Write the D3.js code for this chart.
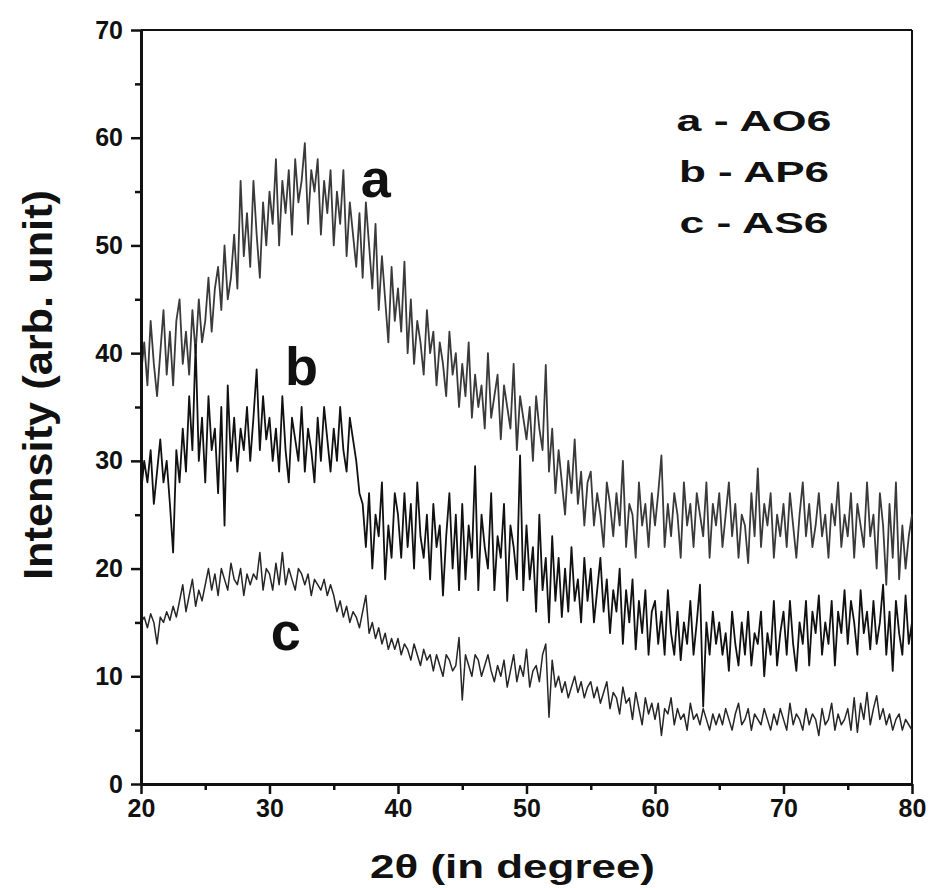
<!doctype html>
<html>
<head>
  <meta charset="utf-8">
  <script src="https://d3js.org/d3.v7.min.js"></script>
  <style>
    body { margin: 0; background: #fff; }
    svg { display: block; }
    .axis text {
      font-family: "Liberation Sans", Arial, sans-serif;
      font-weight: bold;
      font-size: 25px;
      fill: #111;
    }
    .axis line { stroke: #111; stroke-width: 2.5; }
    .axis path { stroke: #111; stroke-width: 3; }
    .label {
      font-family: "Liberation Sans", Arial, sans-serif;
      font-weight: bold;
      fill: #111;
    }
  </style>
</head>
<body>
<script>
  // 2-theta sampled every 0.25 degree from 20 to 80
  var step = 0.25;
  var xStart = 20;

  var seriesA = [
    38, 41, 37, 43, 39, 36, 40, 44, 38, 42, 37, 43, 45, 39, 42, 38, 44, 40, 45, 41,
    43, 47, 42, 46, 48, 44, 50, 45, 47, 51, 46, 56, 49, 53, 48, 56, 51, 47, 54, 50,
    55, 52, 58, 50, 56, 53, 57, 51, 58, 54, 56, 59.5, 52, 57, 55, 58, 51, 56, 53, 57,
    50, 55, 52, 57, 49, 54, 51, 48, 53, 47, 54, 50, 46, 52, 44, 49, 45, 41, 48, 43,
    46, 42, 48.5, 40, 45, 39, 43, 41, 38, 44, 40, 42, 37, 41, 39, 36, 42, 38, 40, 35,
    39, 36, 41, 34, 38, 35, 37, 33, 40, 34, 36, 38, 32, 37, 35, 33, 39, 31, 36, 34,
    32, 35, 30, 36, 33, 31, 38.9, 29, 33, 27, 31, 28, 25, 30, 27, 32, 26, 29, 24, 28,
    29, 24, 27, 25, 22, 28, 26, 23, 27, 24, 30, 22, 26, 25, 21, 28, 24, 26, 22, 27,
    24, 27, 30.5, 22, 26, 23, 27, 25, 21, 28, 24, 26, 22, 27, 25, 23, 28, 21, 26, 24,
    27, 22, 25, 28, 23, 26, 21, 25, 24, 20.5, 27, 23, 29.3, 22, 26, 24, 27, 21, 25, 23,
    26, 22, 27, 24, 21, 25, 28, 23, 26, 22, 24, 27, 23, 25, 21, 26, 24, 28, 22, 25,
    23, 27, 21, 26, 24, 22, 28, 23, 25, 20, 27, 24, 18.5, 26, 21, 28, 19, 24, 20, 23,
    25
  ];

  var seriesB = [
    27, 30, 28, 31, 26, 29, 32, 28, 30, 26, 21.5, 31, 28, 33, 29, 36, 31, 40.8, 30, 34,
    28, 36, 31, 33, 27, 35, 24, 37, 30, 34, 29, 33, 31, 35, 30, 34, 38.5, 31, 36, 32,
    34, 30, 33, 29, 36, 31, 28, 34, 32, 30, 35, 29, 33, 31, 28, 34, 30, 35, 32, 29,
    33, 30, 35, 31, 29, 34, 32, 30, 27, 26, 22, 27, 20, 25, 23, 28, 19, 24, 21, 27,
    25, 21, 27, 22, 26, 20, 28, 23, 21, 25, 19, 26, 22, 24, 17.5, 23, 27, 20, 25, 18,
    26, 19, 24, 21, 29.5, 18, 25, 22, 20, 27, 18, 23, 21, 26, 17, 24, 22, 19, 30.5, 18,
    24, 19, 22, 16, 25, 18, 21, 15, 23, 17, 21, 15.5, 20, 16, 22, 17, 19, 15, 21, 17,
    20, 15, 18, 21, 16, 19, 14, 18, 16, 20, 13, 18, 15, 19, 12.5, 17, 14, 18, 12, 16,
    17, 13, 16, 12, 18, 14, 12, 16, 11.5, 15, 13, 17, 12, 15, 18.5, 7.2, 15, 12, 16, 13,
    15, 12, 14, 10.5, 16, 13, 11, 15, 12, 16, 11, 14, 13, 16, 10, 14, 12, 17, 11, 14,
    16, 12, 17, 13, 10.5, 15, 13, 17, 11, 16, 14, 17.5, 12, 15, 13, 17, 11, 16, 14, 18,
    13, 17, 15, 12, 18, 14, 16, 12.5, 17, 13, 15, 18.5, 12, 16, 10.5, 17, 14, 12, 17.5, 13,
    15
  ];

  var seriesC = [
    15, 15.5, 14.5, 15.8, 15, 13, 15.5, 15, 16, 15.2, 16.5, 15.5, 17, 18.5, 16, 17.5, 19, 16.5, 18, 17,
    18.5, 20, 18, 19.5, 17.5, 20, 19, 18, 20.5, 19, 18.5, 20, 17.5, 19.5, 18.5, 19.5, 19, 21.5, 18, 20,
    19.5, 18, 20.5, 18.5, 21.5, 18.5, 20, 19, 18, 20, 19.5, 18.5, 19.5, 17.5, 19, 18.5, 18, 19, 17.5, 18.5,
    17.5, 16, 17, 15.5, 16.5, 15, 16, 15.5, 14.5, 16, 17.5, 14, 15, 13.5, 14.5, 13, 14, 12.5, 13.5, 12.5,
    13.5, 12, 13, 12.5, 11.5, 13, 12, 11, 12.5, 11.5, 12, 10.5, 12, 11, 10, 12, 11.5, 10.5, 11, 13.6,
    7.8, 12, 11, 10, 12, 11.5, 10, 11, 12, 10.5, 9.5, 11, 10, 11.5, 9, 10.5, 12, 9.5, 11, 10,
    12.5, 9, 10.5, 11, 9.5, 12, 13, 6.2, 11.5, 9, 10, 8.5, 9.5, 8, 9, 10, 8.5, 9.5, 8, 9,
    9.5, 8, 9, 7.5, 8.5, 9.5, 7, 8.5, 8, 6.5, 9, 7.5, 8, 6, 8.5, 7, 5.5, 8, 6.5, 7.5,
    6, 7.5, 4.5, 7, 6.5, 8, 5.5, 7, 6, 6.5, 5, 7.5, 6, 6.5, 5.5, 7, 6, 5, 6.5, 5.5,
    6.5, 5.5, 7, 6, 5, 6.5, 7.5, 5.5, 6, 7, 5, 6.5, 6, 5.5, 7, 6, 5, 6.5, 5.5, 7,
    6, 5, 7.5, 5.5, 6.5, 6, 5, 7, 5.5, 6.5, 6, 4.5, 7, 5.5, 6, 7.5, 5, 6.5, 5.5, 6,
    7, 5, 8, 4.8, 7.5, 6, 8.5, 5.5, 7, 8.2, 6, 7, 5.5, 6.5, 5, 6, 6.5, 5, 6, 5.5,
    5
  ];

  var xTicks = [20, 30, 40, 50, 60, 70, 80];
  var yTicks = [0, 10, 20, 30, 40, 50, 60, 70];
  var curveLabels = ["a", "b", "c"];
  var legendLines = ["a - AO6", "b - AP6", "c - AS6"];

  var width = 937, height = 888;
  var margin = { top: 30, right: 25, bottom: 104, left: 141 };

  var svg = d3.select("body").append("svg")
    .attr("width", width)
    .attr("height", height);

  var x = d3.scaleLinear()
    .domain([20, 80])
    .range([margin.left, width - margin.right]);

  var y = d3.scaleLinear()
    .domain([0, 70])
    .range([height - margin.bottom, margin.top]);

  // frame: top and right
  svg.append("line")
    .attr("x1", x(20)).attr("x2", x(80))
    .attr("y1", y(70)).attr("y2", y(70))
    .style("stroke", "#111").style("stroke-width", 2);
  svg.append("line")
    .attr("x1", x(80)).attr("x2", x(80))
    .attr("y1", y(70)).attr("y2", y(0))
    .style("stroke", "#111").style("stroke-width", 2);

  var line = d3.line()
    .x(function (d, i) { return x(xStart + i * step); })
    .y(function (d) { return y(d); });

  var series = [
    { values: seriesA, color: "#3a3a3a", width: 1.8 },
    { values: seriesB, color: "#111", width: 1.8 },
    { values: seriesC, color: "#262626", width: 1.5 }
  ];

  svg.append("g").selectAll("path")
    .data(series)
    .enter().append("path")
    .attr("d", function (s) { return line(s.values); })
    .style("fill", "none")
    .style("stroke", function (s) { return s.color; })
    .style("stroke-width", function (s) { return s.width; })
    .style("stroke-linejoin", "round");

  // axes
  svg.append("g")
    .classed("axis", true)
    .attr("transform", "translate(0," + y(0) + ")")
    .call(d3.axisBottom(x).tickValues(xTicks).tickSize(10).tickSizeOuter(0).tickPadding(5));
  svg.append("g")
    .classed("axis", true)
    .attr("transform", "translate(0," + y(0) + ")")
    .call(d3.axisBottom(x).tickValues([25, 35, 45, 55, 65, 75]).tickSize(6).tickSizeOuter(0).tickFormat(""))
    .select(".domain").remove();

  svg.append("g")
    .classed("axis", true)
    .attr("transform", "translate(" + x(20) + ",0)")
    .call(d3.axisLeft(y).tickValues(yTicks).tickSize(10).tickSizeOuter(0).tickPadding(8));
  svg.append("g")
    .classed("axis", true)
    .attr("transform", "translate(" + x(20) + ",0)")
    .call(d3.axisLeft(y).tickValues([5, 15, 25, 35, 45, 55, 65]).tickSize(6).tickSizeOuter(0).tickFormat(""))
    .select(".domain").remove();

  // curve labels
  var labelPos = [[37.1, 54.5], [31.2, 37], [30.1, 12.4]];
  svg.selectAll(".curve-label")
    .data(curveLabels)
    .enter().append("text")
    .classed("label", true)
    .attr("x", function (d, i) { return x(labelPos[i][0]); })
    .attr("y", function (d, i) { return y(labelPos[i][1]); })
    .style("font-size", "54px")
    .text(function (d) { return d; });

  // legend
  var legendWidths = [155, 150, 149];
  svg.selectAll(".legend")
    .data(legendLines)
    .enter().append("text")
    .classed("label", true)
    .attr("x", function (d, i) { return 754 - legendWidths[i] / 2; })
    .attr("y", function (d, i) { return 131 + i * 51; })
    .attr("textLength", function (d, i) { return legendWidths[i]; })
    .attr("lengthAdjust", "spacingAndGlyphs")
    .style("font-size", "29px")
    .text(function (d) { return d; });

  // axis titles
  svg.append("text")
    .classed("label", true)
    .attr("transform", "translate(52," + 385 + ") rotate(-90)")
    .attr("text-anchor", "middle")
    .attr("textLength", 390)
    .attr("lengthAdjust", "spacingAndGlyphs")
    .style("font-size", "40px")
    .text("Intensity (arb. unit)");

  svg.append("text")
    .classed("label", true)
    .attr("x", 370)
    .attr("y", 878)
    .attr("textLength", 285)
    .attr("lengthAdjust", "spacingAndGlyphs")
    .style("font-size", "34px")
    .text("2\u03b8 (in degree)");
</script>
</body>
</html>
